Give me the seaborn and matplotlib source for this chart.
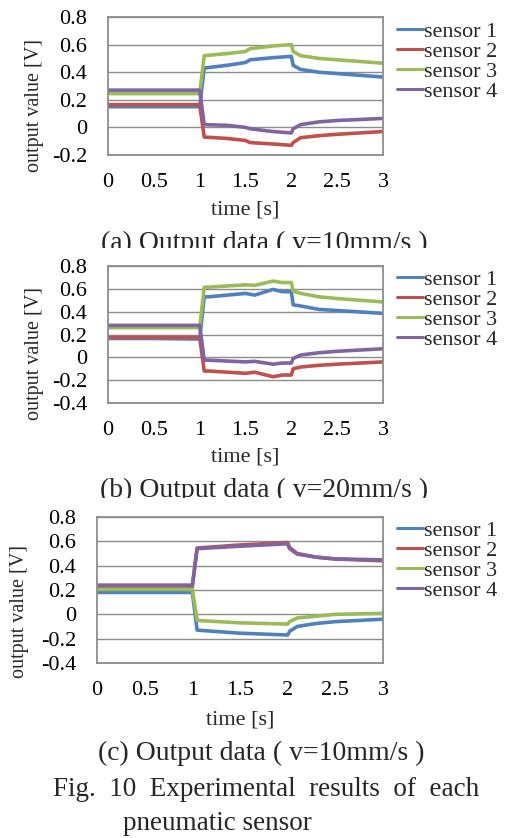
import numpy as np
import pandas as pd
import matplotlib
matplotlib.use("Agg")
import matplotlib.pyplot as plt
import seaborn as sns
from matplotlib.transforms import Bbox, TransformedBbox

sns.set_theme(style="white")
plt.rcParams['font.family'] = ['Liberation Serif', 'DejaVu Serif']

sensors = ["sensor 1", "sensor 2", "sensor 3", "sensor 4"]
colors = ["#4F81BD", "#C0504D", "#9BBB59", "#8064A2"]
xticks = [0, 0.5, 1, 1.5, 2, 2.5, 3]
xticklabels = ["0", "0.5", "1", "1.5", "2", "2.5", "3"]

# Panel (a)
time_a = [0, 0.5, 1.0, 1.05, 1.3, 1.5, 1.55, 1.8, 2.0, 2.02, 2.1, 2.3, 2.5, 3.0]
s1_a = [0.15, 0.15, 0.15, 0.43, 0.45, 0.47, 0.49, 0.505, 0.515, 0.45, 0.42, 0.40, 0.39, 0.365]
s2_a = [0.165, 0.165, 0.165, -0.07, -0.08, -0.095, -0.11, -0.12, -0.13, -0.11, -0.075, -0.06, -0.05, -0.03]
s3_a = [0.245, 0.245, 0.245, 0.52, 0.535, 0.55, 0.57, 0.59, 0.60, 0.55, 0.52, 0.50, 0.49, 0.465]
s4_a = [0.27, 0.27, 0.27, 0.02, 0.015, 0.0, -0.01, -0.03, -0.04, -0.01, 0.02, 0.04, 0.05, 0.065]

# Panel (b)
time_b = [0, 0.5, 1.0, 1.05, 1.1, 1.5, 1.6, 1.8, 1.9, 2.0, 2.02, 2.1, 2.3, 2.5, 3.0]
s1_b = [0.165, 0.165, 0.16, 0.53, 0.53, 0.56, 0.545, 0.595, 0.575, 0.575, 0.46, 0.45, 0.42, 0.41, 0.385]
s2_b = [0.175, 0.175, 0.175, -0.12, -0.12, -0.14, -0.13, -0.17, -0.155, -0.155, -0.10, -0.085, -0.07, -0.06, -0.04]
s3_b = [0.26, 0.26, 0.26, 0.615, 0.615, 0.635, 0.63, 0.668, 0.655, 0.655, 0.58, 0.56, 0.53, 0.515, 0.485]
s4_b = [0.28, 0.28, 0.28, -0.025, -0.025, -0.04, -0.035, -0.06, -0.05, -0.05, -0.01, 0.02, 0.04, 0.053, 0.075]

# Panel (c)
time_c = [0, 0.5, 1.0, 1.05, 1.5, 2.0, 2.02, 2.1, 2.3, 2.5, 3.0]
s1_c = [0.18, 0.18, 0.18, -0.13, -0.155, -0.17, -0.14, -0.10, -0.075, -0.06, -0.04]
s2_c = [0.225, 0.225, 0.225, 0.545, 0.57, 0.59, 0.55, 0.50, 0.47, 0.455, 0.44]
s3_c = [0.205, 0.205, 0.205, -0.05, -0.07, -0.08, -0.06, -0.03, -0.015, 0.0, 0.008]
s4_c = [0.24, 0.24, 0.24, 0.54, 0.56, 0.58, 0.54, 0.495, 0.47, 0.455, 0.448]

yticks_a = [-0.2, 0, 0.2, 0.4, 0.6, 0.8]
yticklabels_a = ["-0.2", "0", "0.2", "0.4", "0.6", "0.8"]
yticks_bc = [-0.4, -0.2, 0, 0.2, 0.4, 0.6, 0.8]
yticklabels_bc = ["-0.4", "-0.2", "0", "0.2", "0.4", "0.6", "0.8"]

captions = ["(a) Output data ( v=10mm/s )", "(b) Output data ( v=20mm/s )", "(c) Output data ( v=10mm/s )"]

W, H = 506, 838
fig = plt.figure(figsize=(W / 100, H / 100), dpi=100)
fig.patch.set_facecolor("white")


def px_axes(left, right, top, bottom):
    return fig.add_axes([left / W, 1 - bottom / H, (right - left) / W, (bottom - top) / H])


def make_df(t, series):
    rows = []
    for name, vals in zip(sensors, series):
        for ti, v in zip(t, vals):
            rows.append({"time": ti, "value": v, "sensor": name})
    return pd.DataFrame(rows)


panels = [
    dict(box=(108, 383, 17, 155), t=time_a, s=[s1_a, s2_a, s3_a, s4_a], yl=(-0.2, 0.8),
         yt=yticks_a, ytl=yticklabels_a, ylab=(35, 106), xlab=210, cap=(264, 243), clip=248, leg=29),
    dict(box=(108, 383, 266, 403), t=time_b, s=[s1_b, s2_b, s3_b, s4_b], yl=(-0.4, 0.8),
         yt=yticks_bc, ytl=yticklabels_bc, ylab=(35, 353), xlab=457, cap=(264, 490), clip=498, leg=277),
    dict(box=(97, 383, 517, 663), t=time_c, s=[s1_c, s2_c, s3_c, s4_c], yl=(-0.4, 0.8),
         yt=yticks_bc, ytl=yticklabels_bc, ylab=(20, 611), xlab=720, cap=(261, 753), clip=None, leg=528),
]

fs = 16
for p, cap in zip(panels, captions):
    l, r, t, b = p["box"]
    ax = px_axes(l, r, t, b)
    df = make_df(p["t"], p["s"])
    sns.lineplot(data=df, x="time", y="value", hue="sensor", hue_order=sensors,
                 palette=colors, linewidth=2.6, ax=ax, estimator=None, sort=False, legend=True)
    ax.set_xlim(0, 3)
    ax.set_ylim(*p["yl"])
    ax.set_xticks(xticks)
    ax.set_xticklabels(xticklabels)
    ax.set_yticks(p["yt"])
    ax.set_yticklabels(p["ytl"])
    ax.tick_params(axis="both", length=0, labelsize=fs, colors="black")
    ax.tick_params(axis="x", pad=13)
    ax.tick_params(axis="y", pad=15)
    ax.grid(axis="y", color="#8c8c8c", linewidth=1.0)
    ax.set_axisbelow(True)
    for sp in ax.spines.values():
        sp.set_color("#8c8c8c")
        sp.set_linewidth(1.3)
    ax.set_xlabel("")
    ax.set_ylabel("")
    leg = ax.legend(loc="upper left", bbox_to_anchor=((397 - l) / (r - l), 1 - (p["leg"] - 8 - t) / (b - t)),
                    frameon=False, fontsize=16, handlelength=1.15, handletextpad=0.05,
                    labelspacing=-0.02, borderaxespad=0, borderpad=0)
    for h in leg.legend_handles:
        h.set_linewidth(2.2)
    fig.text(p["ylab"][0] / W, 1 - p["ylab"][1] / H, "output value [V]", rotation=90,
             ha="center", va="center", fontsize=14.5)
    fig.text((l + r) / 2 / W, 1 - p["xlab"] / H, "time [s]", ha="center", va="center", fontsize=16)
    txt = fig.text(p["cap"][0] / W, 1 - p["cap"][1] / H, cap, ha="center", va="center", fontsize=20)
    if p["clip"] is not None:
        bb = Bbox.from_extents(0, 1 - p["clip"] / H, 1, 1)
        txt.set_clip_box(TransformedBbox(bb, fig.transFigure))
        txt.set_clip_on(True)

fig.text(53 / W, 1 - 789 / H, "Fig.  10  Experimental  results  of  each", ha="left", va="center", fontsize=19.5)
fig.text(123 / W, 1 - 823 / H, "pneumatic sensor", ha="left", va="center", fontsize=19.5)

fig.savefig("out.png", dpi=100, facecolor="white")
